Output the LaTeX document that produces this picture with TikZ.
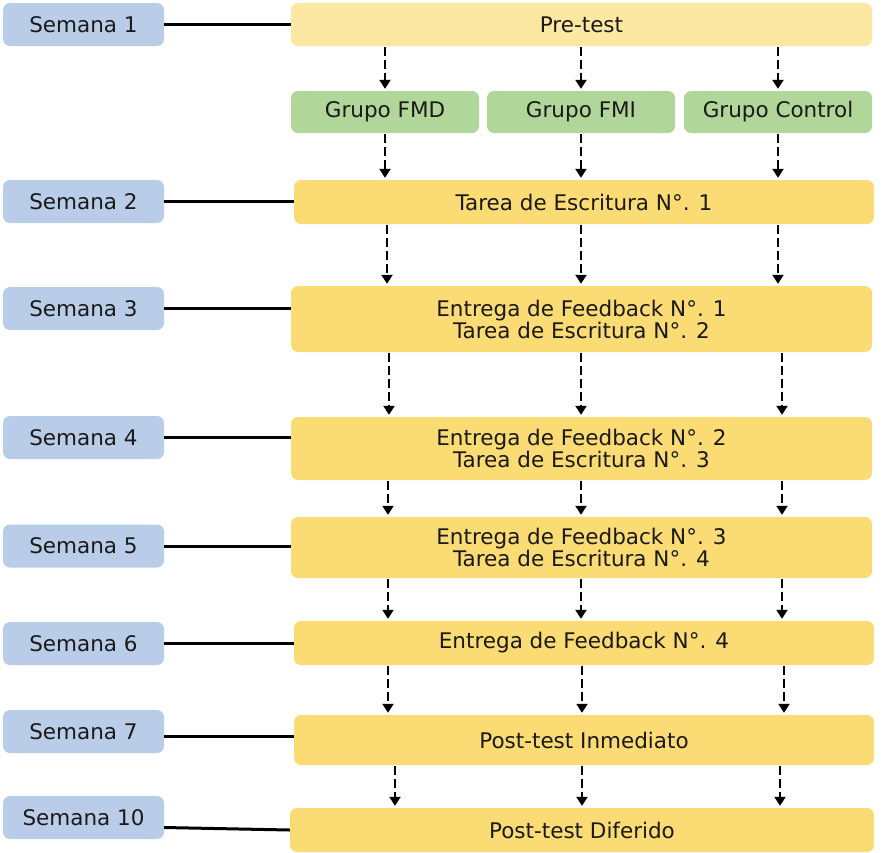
\documentclass[tikz,border=0pt]{standalone}
\usepackage{fontspec}
\setmainfont{DejaVu Sans}
\usetikzlibrary{arrows.meta,calc}
\definecolor{weekblue}{HTML}{BACDE8}
\definecolor{pretest}{HTML}{FCE8A3}
\definecolor{stepyellow}{HTML}{FBDB73}
\definecolor{groupgreen}{HTML}{B1D69A}
\definecolor{txt}{HTML}{1A1A1A}
\begin{document}
\begin{tikzpicture}[x=1pt,y=-1pt,
 box/.style={rounded corners=7pt, inner sep=0pt, text=txt, font=\fontsize{21.5}{22}\selectfont, align=center},
 week/.style={box, fill=weekblue, minimum width=161pt, minimum height=43pt},
 stage/.style={box, fill=stepyellow, minimum width=581pt},
 grp/.style={box, fill=groupgreen, minimum width=188pt, minimum height=42pt},
 link/.style={line width=3pt, black},
 flow/.style={line width=2.9pt, dash pattern=on 9pt off 4pt, -{Triangle[length=9pt,width=11pt]}, shorten >=2pt, shorten <=1pt}
]
\useasboundingbox (0,0) rectangle (886,852);
% week boxes
\node[week] (s1) at (83.5,24.5) {Semana 1};
\node[week] (s2) at (83.5,201.5) {Semana 2};
\node[week] (s3) at (83.5,308.5) {Semana 3};
\node[week] (s4) at (83.5,437.5) {Semana 4};
\node[week] (s5) at (83.5,546) {Semana 5};
\node[week] (s6) at (83.5,643.5) {Semana 6};
\node[week] (s7) at (83.5,731.5) {Semana 7};
\node[week] (s10) at (83.5,817.5) {Semana 10};
% stages
\node[box, fill=pretest, minimum width=581pt, minimum height=43pt] (r1) at (581.5,24.5) {Pre-test};
\node[grp] (gA) at (385,112) {Grupo FMD};
\node[grp] (gB) at (581,112) {Grupo FMI};
\node[grp] (gC) at (778,112) {Grupo Control};
\node[stage, minimum width=580pt, minimum height=44pt] (r2) at (584,202) {Tarea de Escritura N°. 1};
\node[stage, minimum height=66pt] (r3) at (581.5,319) {Entrega de Feedback N°. 1\\Tarea de Escritura N°. 2};
\node[stage, minimum height=63pt] (r4) at (581.5,448.5) {Entrega de Feedback N°. 2\\Tarea de Escritura N°. 3};
\node[stage, minimum height=61pt] (r5) at (581.5,547.5) {Entrega de Feedback N°. 3\\Tarea de Escritura N°. 4};
\node[stage, minimum width=580pt, minimum height=44pt] (r6) at (584,643) {Entrega de Feedback N°. 4};
\node[stage, minimum width=580pt, minimum height=50pt] (r7) at (584,740) {Post-test Inmediato};
\node[stage, minimum width=584pt, minimum height=44pt] (r8) at (582,830) {Post-test Diferido};
% week links
\draw[link] (s1.east) -- (s1.east -| r1.west);
\draw[link] (s2.east) -- (s2.east -| r2.west);
\draw[link] (s3.east) -- (s3.east -| r3.west);
\draw[link] (s4.east) -- (s4.east -| r4.west);
\draw[link] (s5.east) -- (s5.east -| r5.west);
\draw[link] (s6.east) -- (s6.east -| r6.west);
\draw[link] ($(s7.east)+(0,5)$) -- ($(s7.east -| r7.west)+(0,5)$);
\draw[link] ($(s10.east)+(0,10)$) -- (r8.west);
% flow arrows
\foreach \c in {gA,gB,gC} {
  \draw[flow] (r1.south -| \c) -- (\c.north);
  \draw[flow] (\c.south) -- (r2.north -| \c);
}
\foreach \a/\b/\dl/\dm/\dr in {r2/r3/2/0/0, r3/r4/4/0/4, r4/r5/3/0/4, r5/r6/3/0/4, r6/r7/3/1/6, r7/r8/10/1/2} {
  \draw[flow] ($(\a.south -| gA)+(\dl,0)$) -- ($(\b.north -| gA)+(\dl,0)$);
  \draw[flow] ($(\a.south -| gB)+(\dm,0)$) -- ($(\b.north -| gB)+(\dm,0)$);
  \draw[flow] ($(\a.south -| gC)+(\dr,0)$) -- ($(\b.north -| gC)+(\dr,0)$);
}
\end{tikzpicture}
\end{document}
